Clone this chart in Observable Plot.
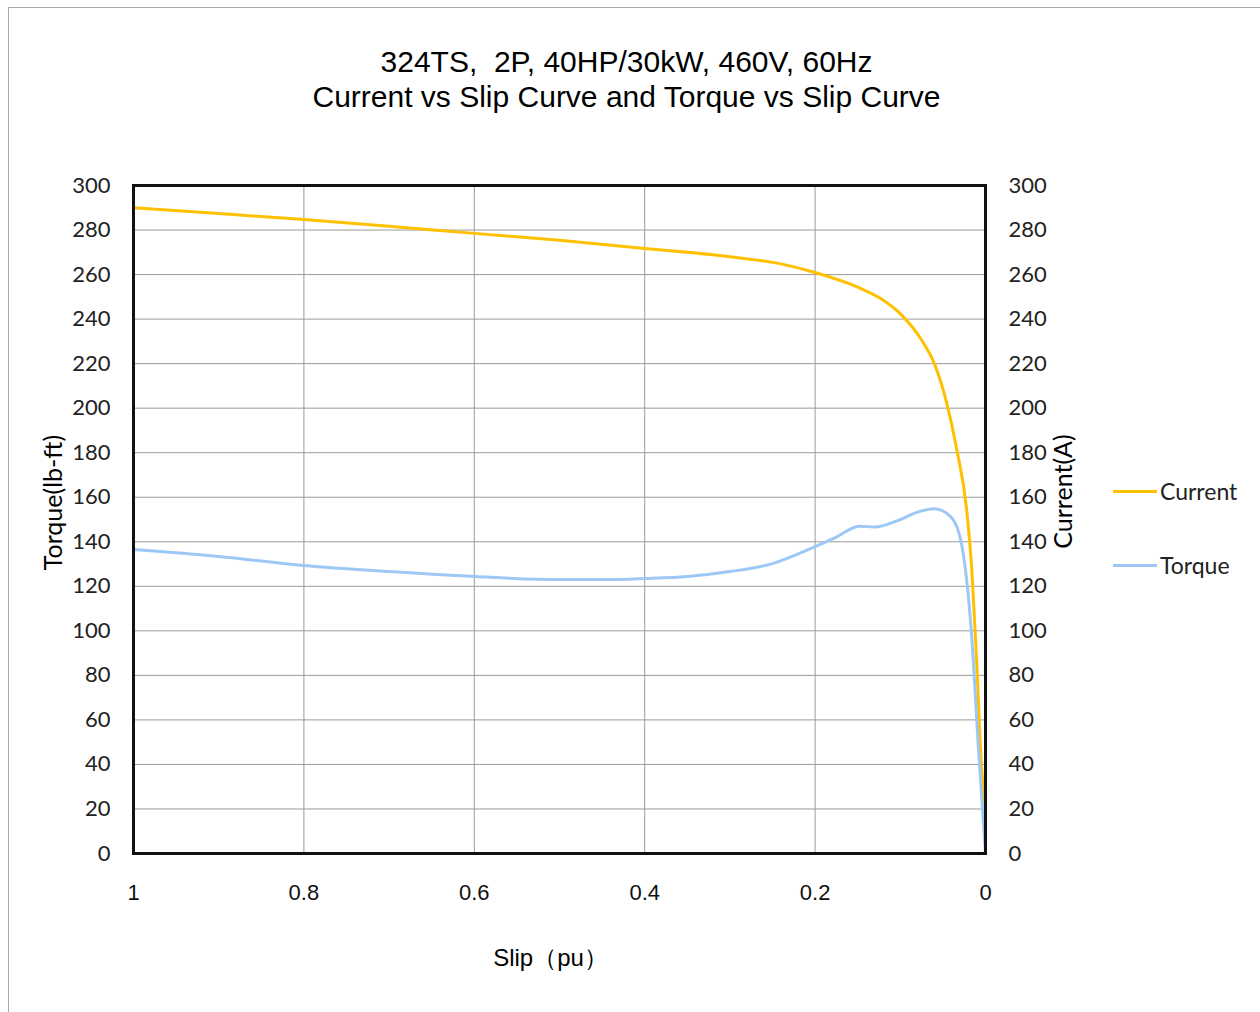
<!DOCTYPE html>
<html>
<head>
<meta charset="utf-8">
<script src="https://cdn.jsdelivr.net/npm/d3@7"></script>
<script src="https://cdn.jsdelivr.net/npm/@observablehq/plot@0.6"></script>
<style>
  html, body { margin: 0; padding: 0; background: #fff; }
  #wrap { position: relative; width: 1260px; height: 1012px; overflow: hidden; }
  #border { position: absolute; left: 8px; top: 7px; width: 1300px; height: 1100px; border: 1px solid #a8a8a8; box-sizing: border-box; }
  #chart { position: absolute; left: 0; top: 0; }
  .leg { position: absolute; font-family: Lato, "Open Sans", sans-serif; font-size: 23px; color: #222; display: flex; align-items: center; }
  .sw { width: 44px; height: 3px; margin-right: 3px; }
</style>
</head>
<body>
<div id="wrap">
  <div id="border"></div>
  <div id="chart"></div>
</div>
<script>
const titleLines = ["324TS,  2P, 40HP/30kW, 460V, 60Hz", "Current vs Slip Curve and Torque vs Slip Curve"];
const xLabel = "Slip\uFF08pu\uFF09";
const yLeftLabel = "Torque(lb-ft)";
const yRightLabel = "Current(A)";
const seriesNames = ["Current", "Torque"];
const seriesColors = ["#FFC000", "#9DC8F6"];

const xTicks = [1, 0.8, 0.6, 0.4, 0.2, 0];
const yTicks = [0, 20, 40, 60, 80, 100, 120, 140, 160, 180, 200, 220, 240, 260, 280, 300];

const currentSlip = [1, 0.9, 0.8, 0.7, 0.6, 0.5, 0.4, 0.3, 0.24, 0.2, 0.148, 0.122, 0.099, 0.075, 0.06, 0.046, 0.034, 0.022, 0.016, 0.0106, 0.0047, 0];
const currentValues = [290, 287.4, 284.7, 281.7, 278.5, 275.4, 271.7, 268, 264.8, 260.9, 254, 249, 242, 230.6, 220, 203, 182, 154, 127, 88, 39, 20];

const torqueSlip = [1, 0.9, 0.8, 0.7, 0.6, 0.5, 0.45, 0.4, 0.35, 0.3, 0.25, 0.2, 0.177, 0.148, 0.13, 0.103, 0.079, 0.06, 0.04, 0.028, 0.02, 0.0145, 0.0086, 0];
const torqueValues = [136.5, 133.4, 129.3, 126.6, 124.4, 123, 123, 123.5, 124.4, 126.6, 130.2, 137.8, 141.7, 147, 146.6, 149.5, 153.4, 154.8, 150.9, 138.8, 115, 88, 49, 0];

const current = currentSlip.map((s, i) => ({s, v: currentValues[i]}));
const torque = torqueSlip.map((s, i) => ({s, v: torqueValues[i]}));

const tickFont = 'Lato, "Open Sans", sans-serif';
const arial = '"Liberation Sans", Arial, sans-serif';

const plot = Plot.plot({
  width: 1260,
  height: 1012,
  marginLeft: 133,
  marginRight: 275,
  marginTop: 185,
  marginBottom: 159,
  style: {background: "transparent"},
  x: {domain: [1, 0], ticks: xTicks},
  y: {domain: [0, 300], ticks: yTicks},
  marks: [
    Plot.gridX(xTicks, {stroke: "#9a9a9a", strokeOpacity: 1, strokeWidth: 1}),
    Plot.gridY(yTicks, {stroke: "#9a9a9a", strokeOpacity: 1, strokeWidth: 1}),
    Plot.axisY(yTicks, {anchor: "left", tickSize: 0, tickPadding: 23, label: null, fontSize: 22, fontFamily: tickFont, fill: "#222"}),
    Plot.axisY(yTicks, {anchor: "right", tickSize: 0, tickPadding: 23, label: null, fontSize: 22, fontFamily: tickFont, fill: "#222"}),
    Plot.axisX(xTicks, {anchor: "bottom", tickSize: 0, tickPadding: 31, label: null, fontSize: 22, fontFamily: arial, fill: "#111", tickFormat: d => String(d)}),
    Plot.line(current, {x: "s", y: "v", stroke: seriesColors[0], strokeWidth: 3, curve: "monotone-x"}),
    Plot.line(torque, {x: "s", y: "v", stroke: seriesColors[1], strokeWidth: 3, curve: "monotone-x"}),
    Plot.frame({stroke: "#111", strokeWidth: 3}),
    Plot.text([titleLines[0]], {frameAnchor: "top", lineAnchor: "middle", textAnchor: "middle", dx: 67, dy: -123, fontSize: 30, fontFamily: arial, fill: "#000"}),
    Plot.text([titleLines[1]], {frameAnchor: "top", lineAnchor: "middle", textAnchor: "middle", dx: 67, dy: -88, fontSize: 30, fontFamily: arial, fill: "#000"}),
    Plot.text([xLabel], {frameAnchor: "bottom", lineAnchor: "middle", textAnchor: "middle", dx: -9, dy: 105, fontSize: 24, fontFamily: arial, fill: "#000"}),
    Plot.text([yLeftLabel], {frameAnchor: "left", lineAnchor: "middle", textAnchor: "middle", dx: -80, dy: -17, rotate: -90, fontSize: 25, fontFamily: tickFont, fill: "#000"}),
    Plot.text([yRightLabel], {frameAnchor: "right", lineAnchor: "middle", textAnchor: "middle", dx: 78, dy: -28, rotate: -90, fontSize: 25, fontFamily: tickFont, fill: "#000"})
  ]
});
document.getElementById("chart").appendChild(plot);

// legend
const wrap = document.getElementById("wrap");
const legTops = [492, 566];
seriesNames.forEach((name, i) => {
  const d = document.createElement("div");
  d.className = "leg";
  d.style.left = "1113px";
  d.style.top = (legTops[i] - 16) + "px";
  d.style.height = "30px";
  const sw = document.createElement("span");
  sw.className = "sw";
  sw.style.background = seriesColors[i];
  const t = document.createElement("span");
  t.textContent = name;
  d.appendChild(sw);
  d.appendChild(t);
  wrap.appendChild(d);
});
</script>
</body>
</html>
